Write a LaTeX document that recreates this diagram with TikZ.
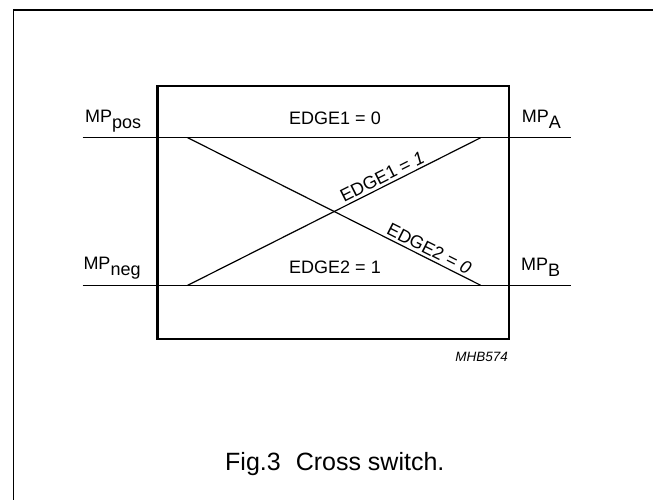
\documentclass[tikz,border=0pt]{standalone}
\usepackage{fontspec}
\setmainfont{Liberation Sans}
\begin{document}
\begin{tikzpicture}[x=1pt,y=-1pt,
  framestyle/.style={line width=1.4pt},
  boxline/.style={line width=2.6pt},
  wire/.style={line width=1.2pt},
  lbl/.style={inner sep=0pt, font=\fontsize{18}{21}\selectfont},
  slbl/.style={inner sep=2.5pt, font=\fontsize{18}{21}\selectfont, sloped, anchor=south},
  code/.style={inner sep=0pt, font=\fontsize{13.5}{16}\selectfont\itshape},
  caption/.style={inner sep=0pt, font=\fontsize{25}{30}\selectfont}]
\useasboundingbox (0,0) rectangle (653,500);
% outer frame (cropped)
\coordinate (fTR) at (653,10);
\coordinate (fTL) at (13.5,10);
\coordinate (fBL) at (13.5,500);
\draw[framestyle] (fTR) -- (fTL) -- (fBL);
% inner box
\coordinate (bTL) at (157.5,86);
\coordinate (bBR) at (509,339);
\draw[boxline] (bTL) rectangle (bBR);
% wires
\coordinate (posL) at (82.7,137.7);
\coordinate (aR) at (570.7,137.7);
\coordinate (negL) at (82.7,285.3);
\coordinate (bR) at (570.7,285.3);
\coordinate (tl) at (187.7,137.7);
\coordinate (tr) at (480.7,137.7);
\coordinate (bl) at (187.7,285.3);
\coordinate (br) at (480.7,285.3);
\draw[wire] (posL) -- (aR);
\draw[wire] (negL) -- (bR);
\draw[wire] (tl) -- (br) node[slbl, pos=0.81] (e20) {EDGE2 = \textit{0}};
\draw[wire] (bl) -- (tr) node[slbl, pos=0.678] (e11) {EDGE1 = \textit{1}};
% labels
\node[lbl, anchor=base west] (mppos) at (85,122.3) {MP\raisebox{-6pt}{pos}};
\node[lbl, anchor=base west] (mpneg) at (83.3,269.9) {MP\raisebox{-6pt}{neg}};
\node[lbl, anchor=base west] (mpa) at (521.7,122.3) {MP\raisebox{-6pt}{A}};
\node[lbl, anchor=base west] (mpb) at (521,270) {MP\raisebox{-6pt}{B}};
\node[lbl, anchor=base] (e10) at (335,124.3) {EDGE1 = 0};
\node[lbl, anchor=base] (e21) at (335,273) {EDGE2 = 1};
\node[code, anchor=base east] (mhb) at (508,361) {MHB574};
\node[caption, anchor=base west] (cap) at (225,470) {Fig.3\hspace{0.6em}Cross switch.};
\end{tikzpicture}
\end{document}
